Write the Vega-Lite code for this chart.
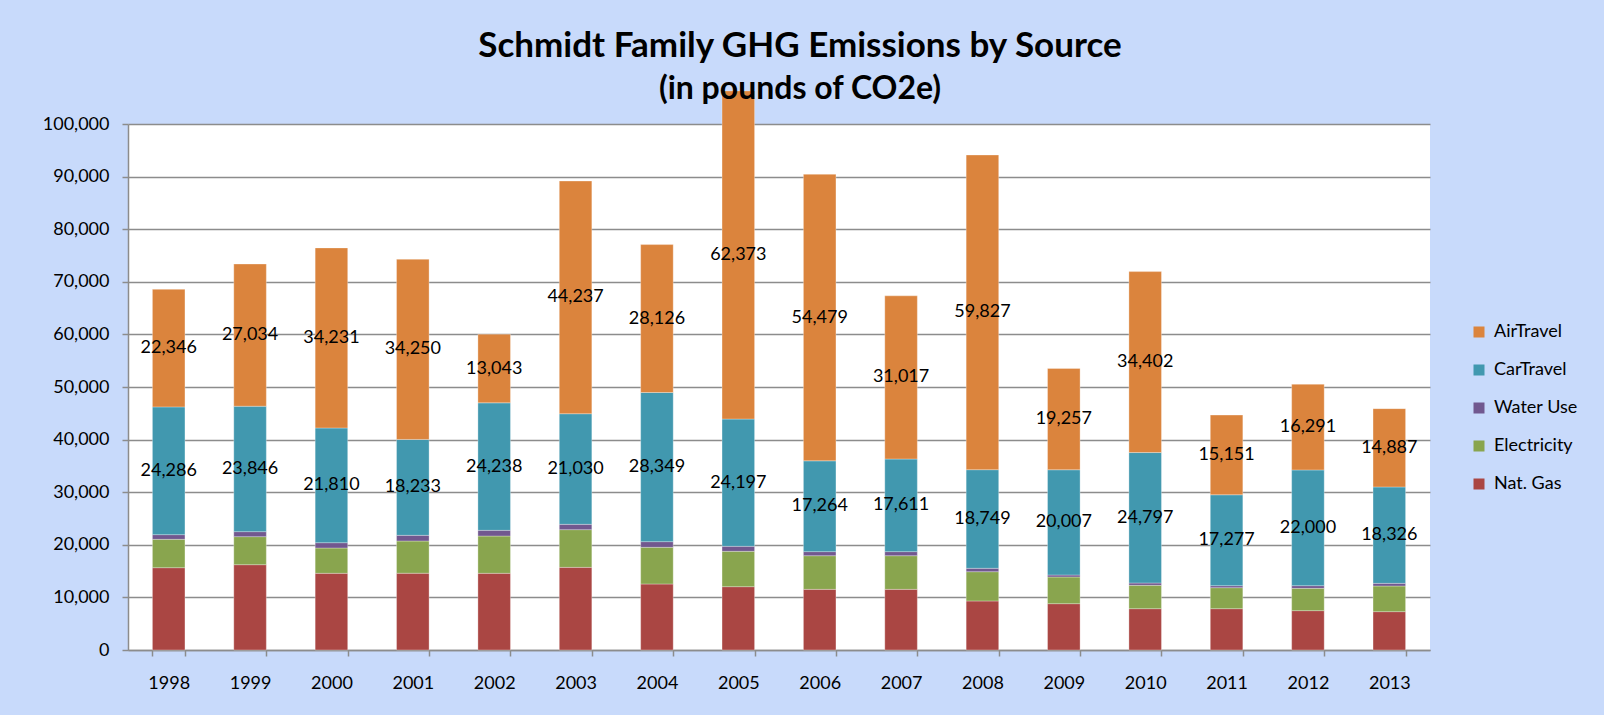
{
  "$schema": "https://vega.github.io/schema/vega-lite/v6.json",
  "description": "Schmidt family GHG emissions by source, stacked bars 1998-2013",
  "width": 1302,
  "height": 526,
  "autosize": {"type": "none"},
  "padding": {"left": 128, "top": 124, "right": 174, "bottom": 65},
  "background": "#C8DAFB",
  "title": {
    "text": "Schmidt Family GHG Emissions by Source",
    "subtitle": "(in pounds of CO2e)",
    "font": "Lato",
    "fontSize": 35,
    "fontWeight": "bold",
    "color": "black",
    "subtitleFont": "Lato",
    "subtitleFontSize": 32,
    "subtitleFontWeight": "bold",
    "subtitleColor": "black",
    "subtitlePadding": 10,
    "anchor": "middle",
    "frame": "group",
    "dx": 21,
    "dy": 28,
    "offset": 14
  },
  "config": {
    "font": "Lato",
    "view": {"fill": "white", "stroke": null},
    "axis": {
      "labelFont": "Lato",
      "labelFontSize": 18,
      "labelColor": "black",
      "domainColor": "#8c8c8c",
      "domainWidth": 1.5,
      "tickColor": "#8c8c8c",
      "tickWidth": 1.5,
      "tickSize": 6,
      "gridColor": "#8c8c8c",
      "gridWidth": 1.5
    },
    "axisY": {"grid": true, "labelPadding": 13},
    "axisX": {"grid": false, "tickBand": "extent", "labelPadding": 18, "labelAngle": 0},
    "legend": {
      "orient": "none",
      "legendX": 1342,
      "legendY": 199,
      "padding": 0,
      "symbolType": "square",
      "symbolSize": 121,
      "symbolStrokeWidth": 0,
      "labelFont": "Lato",
      "labelFontSize": 18,
      "labelColor": "black",
      "labelOffset": 6,
      "rowPadding": 20
    }
  },
  "data": {
    "values": [
      {"year": "1998", "source": "Nat. Gas", "ord": 1, "value": 15650},
      {"year": "1998", "source": "Electricity", "ord": 2, "value": 5390},
      {"year": "1998", "source": "Water Use", "ord": 3, "value": 890},
      {"year": "1998", "source": "CarTravel", "ord": 4, "value": 24286},
      {"year": "1998", "source": "AirTravel", "ord": 5, "value": 22346},
      {"year": "1999", "source": "Nat. Gas", "ord": 1, "value": 16220},
      {"year": "1999", "source": "Electricity", "ord": 2, "value": 5330},
      {"year": "1999", "source": "Water Use", "ord": 3, "value": 950},
      {"year": "1999", "source": "CarTravel", "ord": 4, "value": 23846},
      {"year": "1999", "source": "AirTravel", "ord": 5, "value": 27034},
      {"year": "2000", "source": "Nat. Gas", "ord": 1, "value": 14580},
      {"year": "2000", "source": "Electricity", "ord": 2, "value": 4810},
      {"year": "2000", "source": "Water Use", "ord": 3, "value": 1010},
      {"year": "2000", "source": "CarTravel", "ord": 4, "value": 21810},
      {"year": "2000", "source": "AirTravel", "ord": 5, "value": 34231},
      {"year": "2001", "source": "Nat. Gas", "ord": 1, "value": 14600},
      {"year": "2001", "source": "Electricity", "ord": 2, "value": 6120},
      {"year": "2001", "source": "Water Use", "ord": 3, "value": 1080},
      {"year": "2001", "source": "CarTravel", "ord": 4, "value": 18233},
      {"year": "2001", "source": "AirTravel", "ord": 5, "value": 34250},
      {"year": "2002", "source": "Nat. Gas", "ord": 1, "value": 14580},
      {"year": "2002", "source": "Electricity", "ord": 2, "value": 7090},
      {"year": "2002", "source": "Water Use", "ord": 3, "value": 1080},
      {"year": "2002", "source": "CarTravel", "ord": 4, "value": 24238},
      {"year": "2002", "source": "AirTravel", "ord": 5, "value": 13043},
      {"year": "2003", "source": "Nat. Gas", "ord": 1, "value": 15710},
      {"year": "2003", "source": "Electricity", "ord": 2, "value": 7170},
      {"year": "2003", "source": "Water Use", "ord": 3, "value": 1010},
      {"year": "2003", "source": "CarTravel", "ord": 4, "value": 21030},
      {"year": "2003", "source": "AirTravel", "ord": 5, "value": 44237},
      {"year": "2004", "source": "Nat. Gas", "ord": 1, "value": 12550},
      {"year": "2004", "source": "Electricity", "ord": 2, "value": 6970},
      {"year": "2004", "source": "Water Use", "ord": 3, "value": 1080},
      {"year": "2004", "source": "CarTravel", "ord": 4, "value": 28349},
      {"year": "2004", "source": "AirTravel", "ord": 5, "value": 28126},
      {"year": "2005", "source": "Nat. Gas", "ord": 1, "value": 12040},
      {"year": "2005", "source": "Electricity", "ord": 2, "value": 6720},
      {"year": "2005", "source": "Water Use", "ord": 3, "value": 950},
      {"year": "2005", "source": "CarTravel", "ord": 4, "value": 24197},
      {"year": "2005", "source": "AirTravel", "ord": 5, "value": 62373},
      {"year": "2006", "source": "Nat. Gas", "ord": 1, "value": 11530},
      {"year": "2006", "source": "Electricity", "ord": 2, "value": 6400},
      {"year": "2006", "source": "Water Use", "ord": 3, "value": 770},
      {"year": "2006", "source": "CarTravel", "ord": 4, "value": 17264},
      {"year": "2006", "source": "AirTravel", "ord": 5, "value": 54479},
      {"year": "2007", "source": "Nat. Gas", "ord": 1, "value": 11530},
      {"year": "2007", "source": "Electricity", "ord": 2, "value": 6400},
      {"year": "2007", "source": "Water Use", "ord": 3, "value": 770},
      {"year": "2007", "source": "CarTravel", "ord": 4, "value": 17611},
      {"year": "2007", "source": "AirTravel", "ord": 5, "value": 31017},
      {"year": "2008", "source": "Nat. Gas", "ord": 1, "value": 9320},
      {"year": "2008", "source": "Electricity", "ord": 2, "value": 5570},
      {"year": "2008", "source": "Water Use", "ord": 3, "value": 640},
      {"year": "2008", "source": "CarTravel", "ord": 4, "value": 18749},
      {"year": "2008", "source": "AirTravel", "ord": 5, "value": 59827},
      {"year": "2009", "source": "Nat. Gas", "ord": 1, "value": 8810},
      {"year": "2009", "source": "Electricity", "ord": 2, "value": 5070},
      {"year": "2009", "source": "Water Use", "ord": 3, "value": 380},
      {"year": "2009", "source": "CarTravel", "ord": 4, "value": 20007},
      {"year": "2009", "source": "AirTravel", "ord": 5, "value": 19257},
      {"year": "2010", "source": "Nat. Gas", "ord": 1, "value": 7860},
      {"year": "2010", "source": "Electricity", "ord": 2, "value": 4430},
      {"year": "2010", "source": "Water Use", "ord": 3, "value": 450},
      {"year": "2010", "source": "CarTravel", "ord": 4, "value": 24797},
      {"year": "2010", "source": "AirTravel", "ord": 5, "value": 34402},
      {"year": "2011", "source": "Nat. Gas", "ord": 1, "value": 7860},
      {"year": "2011", "source": "Electricity", "ord": 2, "value": 3990},
      {"year": "2011", "source": "Water Use", "ord": 3, "value": 380},
      {"year": "2011", "source": "CarTravel", "ord": 4, "value": 17277},
      {"year": "2011", "source": "AirTravel", "ord": 5, "value": 15151},
      {"year": "2012", "source": "Nat. Gas", "ord": 1, "value": 7480},
      {"year": "2012", "source": "Electricity", "ord": 2, "value": 4240},
      {"year": "2012", "source": "Water Use", "ord": 3, "value": 510},
      {"year": "2012", "source": "CarTravel", "ord": 4, "value": 22000},
      {"year": "2012", "source": "AirTravel", "ord": 5, "value": 16291},
      {"year": "2013", "source": "Nat. Gas", "ord": 1, "value": 7290},
      {"year": "2013", "source": "Electricity", "ord": 2, "value": 4880},
      {"year": "2013", "source": "Water Use", "ord": 3, "value": 500},
      {"year": "2013", "source": "CarTravel", "ord": 4, "value": 18326},
      {"year": "2013", "source": "AirTravel", "ord": 5, "value": 14887}
    ]
  },
  "encoding": {
    "x": {
      "field": "year",
      "type": "ordinal",
      "title": null,
      "scale": {"paddingInner": 0.6, "paddingOuter": 0.3}
    }
  },
  "layer": [
    {
      "mark": {"type": "bar", "stroke": "#ffffff", "strokeWidth": 0.6, "strokeOpacity": 0.5},
      "encoding": {
        "y": {
          "field": "value",
          "type": "quantitative",
          "stack": "zero",
          "title": null,
          "scale": {"domain": [0, 100000], "nice": false},
          "axis": {"tickCount": 10, "format": ",d"}
        },
        "color": {
          "field": "source",
          "type": "nominal",
          "title": null,
          "scale": {
            "domain": ["AirTravel", "CarTravel", "Water Use", "Electricity", "Nat. Gas"],
            "range": ["#DB843D", "#4198AF", "#71588F", "#89A54E", "#AA4643"]
          }
        },
        "order": {"field": "ord", "type": "quantitative"}
      }
    },
    {
      "transform": [
        {"stack": "value", "groupby": ["year"], "sort": [{"field": "ord", "order": "ascending"}], "as": ["v0", "v1"]},
        {"calculate": "(datum.v0 + datum.v1) / 2", "as": "mid"},
        {"filter": "datum.source === 'CarTravel' || datum.source === 'AirTravel'"}
      ],
      "mark": {"type": "text", "font": "Lato", "fontSize": 18, "color": "black", "align": "center", "baseline": "middle"},
      "encoding": {
        "y": {
          "field": "mid",
          "type": "quantitative",
          "title": null,
          "axis": {"tickCount": 10, "format": ",d"}
        },
        "text": {"field": "value", "type": "quantitative", "format": ","}
      }
    }
  ]
}
